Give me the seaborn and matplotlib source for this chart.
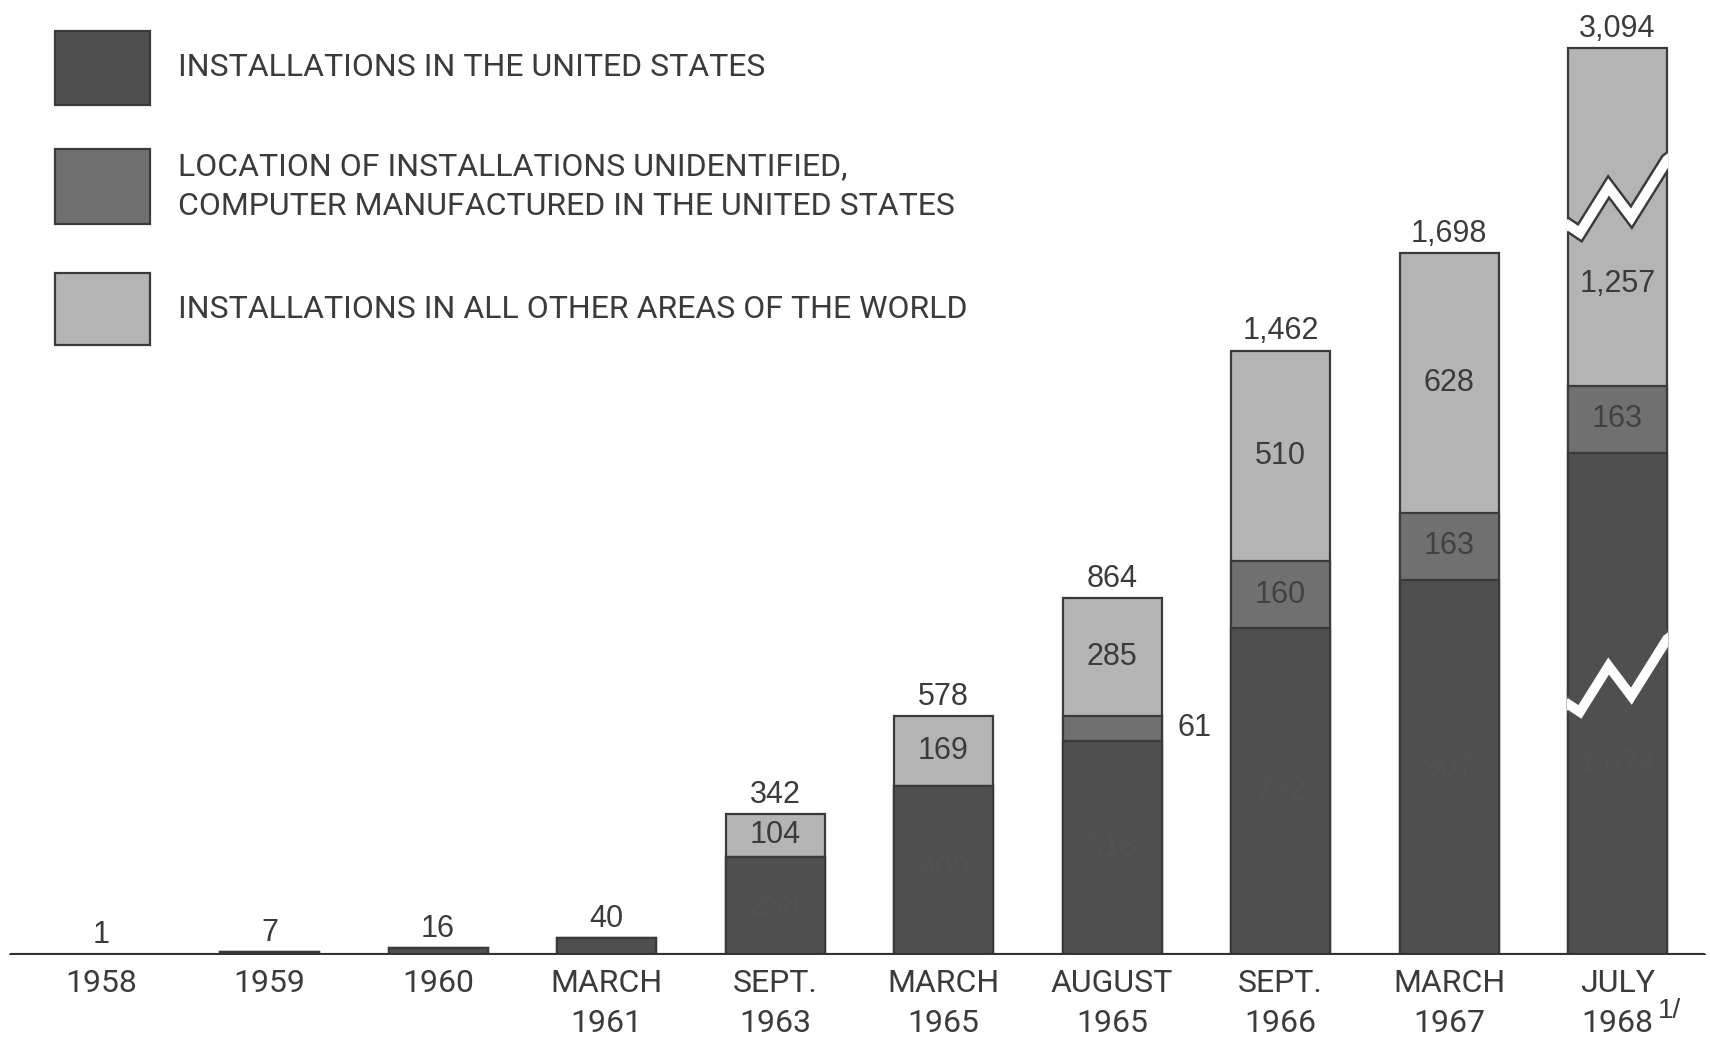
import matplotlib
matplotlib.use("Agg")
import matplotlib.pyplot as plt
import matplotlib.patheffects as pe
from matplotlib.patches import Rectangle
import seaborn as sns
import numpy as np

# ---------------- data ----------------
categories = ["1958", "1959", "1960", "MARCH\n1961", "SEPT.\n1963",
              "MARCH\n1965", "AUGUST\n1965", "SEPT.\n1966", "MARCH\n1967", "JULY\n1968"]
us_installations = [1, 7, 16, 40, 238, 409, 518, 792, 907, 1674]
unidentified = [0, 0, 0, 0, 0, 0, 61, 160, 163, 163]
other_world = [0, 0, 0, 0, 104, 169, 285, 510, 628, 1257]
totals = [1, 7, 16, 40, 342, 578, 864, 1462, 1698, 3094]
legend_labels = ["INSTALLATIONS IN THE UNITED STATES",
                 "LOCATION OF INSTALLATIONS UNIDENTIFIED,\nCOMPUTER MANUFACTURED IN THE UNITED STATES",
                 "INSTALLATIONS IN ALL OTHER AREAS OF THE WORLD"]
total_labels = ["1", "7", "16", "40", "342", "578", "864", "1,462", "1,698", "3,094"]
us_labels = ["", "", "", "", "238", "409", "518", "792", "907", "1,674"]
unid_labels = ["", "", "", "", "", "", "61", "160", "163", "163"]
other_labels = ["", "", "", "", "104", "169", "285", "510", "628", "1,257"]

# broken-scale display compression (last bar only)
break_us = [0, 0, 0, 0, 0, 0, 0, 0, 0, 460]
break_other = [0, 0, 0, 0, 0, 0, 0, 0, 0, 440]

# ---------------- style ----------------
DARK, MID, LIGHT = "#4f4f4f", "#707070", "#b4b4b4"
EDGE = "#3a3a3a"
TXT = "#3b3b3b"
NUM_FONT = ["Liberation Sans", "DejaVu Sans"]
NARROW = ["Roboto", "Liberation Sans", "DejaVu Sans"]

sns.set_theme(style="white")
plt.rcParams["font.family"] = NUM_FONT

W, H = 1710, 1039
fig = plt.figure(figsize=(W / 100, H / 100), dpi=100)
fig.patch.set_facecolor("white")

base_px = 955
px_per_unit = 0.4134
cx0, step = 101, 168.5
ax = fig.add_axes([0, (H - base_px) / H, 1, base_px / H])
ax.set_facecolor("white")

us_disp = np.array(us_installations) - np.array(break_us)
mid_disp = us_disp + np.array(unidentified)
top_disp = mid_disp + np.array(other_world) - np.array(break_other)

bw = 99 / step
kw = dict(order=categories, edgecolor=EDGE, linewidth=1.6, width=bw, ax=ax,
          errorbar=None, saturation=1)
sns.barplot(x=categories, y=top_disp, color=LIGHT, **kw)
sns.barplot(x=categories, y=mid_disp, color=MID, **kw)
sns.barplot(x=categories, y=us_disp, color=DARK, **kw)

ax.set_xlim(-cx0 / step, (W - cx0) / step)
ax.set_ylim(0, base_px / px_per_unit)
for s in ax.spines.values():
    s.set_visible(False)
ax.set_yticks([])
ax.set_ylabel("")
ax.set_xlabel("")
ax.tick_params(axis="x", length=0, pad=10)
for lab in ax.get_xticklabels():
    lab.set_fontfamily(NARROW)
    lab.set_fontsize(23)
    lab.set_color(TXT)
    lab.set_linespacing(1.5)
    lab.set_verticalalignment("top")

ax.axhline(0, xmin=11 / W, xmax=1704 / W, color="#333333", lw=3, zorder=5)

# total labels
for i, t in enumerate(total_labels):
    ax.annotate(t, (i, top_disp[i]), xytext=(0, 8), textcoords="offset points",
                ha="center", va="baseline", fontsize=22, color=TXT, annotation_clip=False)

# segment labels
for i in range(len(categories)):
    if other_labels[i]:
        seg = top_disp[i] - mid_disp[i]
        frac = 0.3 if break_other[i] else 0.5
        ax.text(i, mid_disp[i] + frac * seg, other_labels[i], ha="center", va="center",
                fontsize=22, color=TXT, zorder=6)
    if unid_labels[i]:
        if unidentified[i] < 100:
            ax.text(i + 0.49, us_disp[i] + unidentified[i] / 2, unid_labels[i],
                    ha="center", va="center", fontsize=22, color=TXT)
        else:
            ax.text(i, us_disp[i] + unidentified[i] / 2, unid_labels[i], ha="center",
                    va="center", fontsize=22, color="#414141", zorder=6)
    if us_labels[i]:
        frac = 0.38 if break_us[i] else 0.5
        ax.text(i, us_disp[i] * frac, us_labels[i], ha="center", va="center",
                fontsize=22, color="#525252", zorder=6)

# zigzag breaks on last bar
zx = np.array([0.0, 0.12, 0.41, 0.64, 1.0])
zy = np.array([0, -19, 92, 19, 157])
i = len(categories) - 1
left = i - bw / 2
pad = 0.03
xs = np.concatenate([[left - pad], left + zx * bw, [left + bw + pad]])
for start, stroke in [(0.5 * us_disp[i], DARK),
                      (mid_disp[i] + 0.476 * (top_disp[i] - mid_disp[i]), EDGE)]:
    ys = start + zy
    ys = np.concatenate([[ys[0] - 19 * pad / (0.12 * bw)], ys, [ys[-1] + 65 * pad / (0.36 * bw)]])
    clip = Rectangle((left - 0.008, 0), bw + 0.016, top_disp[i] + 50, transform=ax.transData)
    ln, = ax.plot(xs, ys, color="white", lw=7, solid_joinstyle="miter", zorder=7,
                  path_effects=[pe.Stroke(linewidth=10.5, foreground=stroke), pe.Normal()])
    ln.set_clip_path(clip)

# footnote mark
ax.annotate("1/", xy=(i, 0), xytext=(40, -56), textcoords="offset pixels",
            ha="left", va="center", fontsize=20, color=TXT, annotation_clip=False)

# legend
colors = [DARK, MID, LIGHT]
boxes = [(55, 31, 95, 74), (55, 149, 95, 75), (55, 273, 95, 72)]
for (x, y, w, h), c, lab in zip(boxes, colors, legend_labels):
    fig.add_artist(Rectangle((x / W, 1 - (y + h) / H), w / W, h / H, transform=fig.transFigure,
                             facecolor=c, edgecolor=EDGE, lw=1.6))
    fig.text(178 / W, 1 - (y + h / 2) / H, lab, ha="left", va="center", fontsize=23,
             family=NARROW, color=TXT, linespacing=1.5)

fig.savefig("out.png", dpi=100, facecolor="white")
